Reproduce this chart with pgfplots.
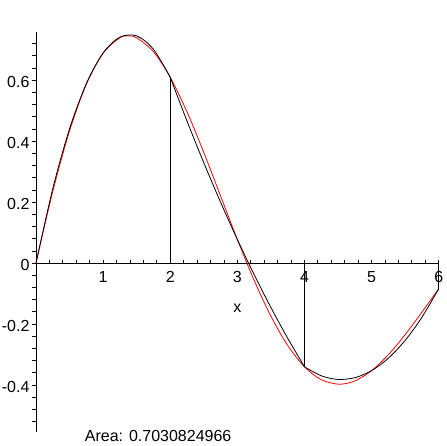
\documentclass[border=0pt]{standalone}
\usepackage{fontspec}
\setmainfont{Liberation Sans}
\usepackage{pgfplots}
\pgfplotsset{compat=1.18}
\begin{document}
\begin{tikzpicture}
\useasboundingbox (-36pt,-14pt) rectangle (410pt,432pt);
\begin{axis}[
  scale only axis, width=402.7pt, height=400pt,
  at={(0pt,0pt)}, anchor=south west,
  xmin=0, xmax=6, ymin=-0.554, ymax=0.758,
  axis lines=middle,
  axis line style={-, black, line width=0.8pt},
  hide obscured x ticks=false, hide obscured y ticks=false,
  xtick={0,1,2,3,4,5,6}, xticklabels={,1,2,3,4,5,6},
  ytick={-0.4,-0.2,0,0.2,0.4,0.6}, yticklabels={-0.4,-0.2,0,0.2,0.4,0.6},
  minor xtick={0.2,0.4,0.6,0.8,1.2,1.4,1.6,1.8,2.2,2.4,2.6,2.8,3.2,3.4,3.6,3.8,4.2,4.4,4.6,4.8,5.2,5.4,5.6,5.8},
  minor ytick={-0.52,-0.48,-0.44,-0.36,-0.32,-0.28,-0.24,-0.16,-0.12,-0.08,-0.04,0.04,0.08,0.12,0.16,0.24,0.28,0.32,0.36,0.44,0.48,0.52,0.56,0.64,0.68,0.72},
  tick align=inside,
  major tick length=3.5pt, minor tick length=3.5pt,
  tick style={black, line width=0.8pt},
  y tick style={xshift=-3.5pt},
  ticklabel style={font=\fontsize{16}{19}\selectfont, text=black},
  xticklabel style={yshift=-5pt},
  yticklabel style={xshift=-3pt, yshift=-2pt},
  clip=false,
]
\addplot[red, line width=0.8pt, smooth] coordinates {
(0,0) (0.25,0.23534) (0.5,0.43380) (0.75,0.58669) (1,0.68894) (1.25,0.73907) (1.373,0.74545) (1.5,0.73896) (1.75,0.69340) (2,0.60952)
(2.25,0.49612) (2.5,0.36299) (2.75,0.22020) (3,0.07745) (3.25,-0.05648) (3.5,-0.17419) (3.75,-0.26999) (4,-0.34006)
(4.25,-0.38253) (4.515,-0.39730) (4.75,-0.38647) (5,-0.35277) (5.25,-0.30057) (5.5,-0.23485) (5.75,-0.16094) (6,-0.08416)
};
\addplot[black, line width=0.8pt, smooth] coordinates {
(0,0) (0.25,0.24427) (0.5,0.44052) (0.75,0.58874) (1,0.68894) (1.25,0.74112) (1.5,0.74528) (1.75,0.70141) (2,0.60952)
};
\addplot[black, line width=0.8pt, smooth] coordinates {
(2,0.60952) (2.25,0.46576) (2.5,0.32917) (2.75,0.19973) (3,0.07745) (3.25,-0.03767) (3.5,-0.14563) (3.75,-0.24642) (4,-0.34006)
};
\addplot[black, line width=0.8pt, smooth] coordinates {
(4,-0.34006) (4.25,-0.36961) (4.5,-0.38158) (4.75,-0.37597) (5,-0.35277) (5.25,-0.31199) (5.5,-0.25363) (5.75,-0.17769) (6,-0.08416)
};
\addplot[black, line width=0.8pt] coordinates {(2,0) (2,0.60952)};
\addplot[black, line width=0.8pt] coordinates {(4,0) (4,-0.34006)};
\addplot[black, line width=0.8pt] coordinates {(6,0) (6,-0.08416)};
\node[font=\fontsize{16}{19}\selectfont] at (axis cs:3,-0.148) {x};
\node[font=\fontsize{16}{19}\selectfont] at (axis cs:1.82,-0.567) {Area: 0.7030824966};
\end{axis}
\end{tikzpicture}
\end{document}
